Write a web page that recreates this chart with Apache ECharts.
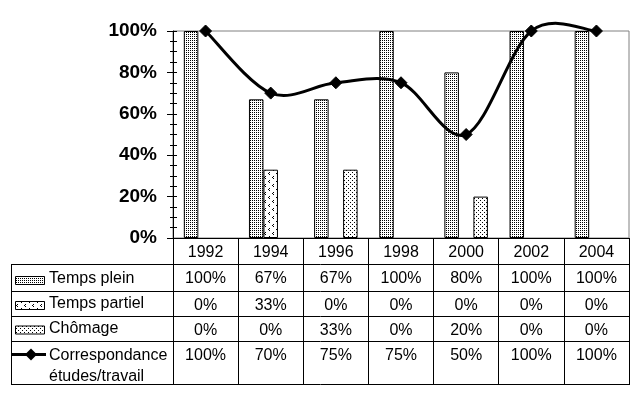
<!DOCTYPE html>
<html>
<head>
<meta charset="utf-8">
<script src="https://cdn.jsdelivr.net/npm/echarts@6/dist/echarts.min.js"></script>
<style>
html,body{margin:0;padding:0;background:#fff;}
#chart{width:639px;height:399px;}
</style>
</head>
<body>
<div id="chart"></div>
<script>
// ---- data ----
const years = ['1992', '1994', '1996', '1998', '2000', '2002', '2004'];
const tempsPlein = [1.00, 0.67, 0.67, 1.00, 0.80, 1.00, 1.00];
const tempsPartiel = [0.00, 0.33, 0.00, 0.00, 0.00, 0.00, 0.00];
const chomage = [0.00, 0.00, 0.33, 0.00, 0.20, 0.00, 0.00];
const correspondance = [1.00, 0.70, 0.75, 0.75, 0.50, 1.00, 1.00];
const seriesNames = ['Temps plein', 'Temps partiel', 'Chômage', 'Correspondance\nétudes/travail'];
const yTickLabels = ['0%', '20%', '40%', '60%', '80%', '100%'];

// ---- patterns ----
function makePattern(w, h, pts) {
  const c = document.createElement('canvas');
  c.width = w; c.height = h;
  const ctx = c.getContext('2d');
  ctx.fillStyle = '#fff';
  ctx.fillRect(0, 0, w, h);
  ctx.fillStyle = '#000';
  pts.forEach(p => ctx.fillRect(p[0], p[1], 1, 1));
  return { image: c, repeat: 'repeat' };
}
const patPlein = makePattern(2, 2, [[0, 0]]);
const patPartiel = makePattern(8, 8, [[1, 0], [0, 1], [1, 2], [5, 4], [4, 5], [5, 6]]);
const patChomage = makePattern(4, 4, [[0, 0], [2, 2]]);
const patterns = [patPlein, patPartiel, patChomage];

const FONT = "'Liberation Sans', Arial, sans-serif";
const pct = v => Math.round(v * 100) + '%';
// zero-height bars get no outline (as in the reference)
const barData = arr => arr.map(v => v === 0 ? { value: v, itemStyle: { borderWidth: 0 } } : v);

const chart = echarts.init(document.getElementById('chart'), null, { renderer: 'canvas' });

// table layout (pixels)
const tblLeft = 11, tblRight = 629;
const rowLines = [264, 291, 316, 341, 384];
const rowTextY = [279, 304, 329, 345];
const keyY = [280, 305, 329.5, 354.5];

const graphics = [];
rowLines.forEach(y => {
  graphics.push({ type: 'line', shape: { x1: tblLeft, y1: y + 0.5, x2: tblRight + 1, y2: y + 0.5 }, style: { stroke: '#000', lineWidth: 1 }, silent: true });
});
graphics.push({ type: 'line', shape: { x1: tblLeft + 0.5, y1: 264, x2: tblLeft + 0.5, y2: 385 }, style: { stroke: '#000', lineWidth: 1 }, silent: true });
for (let i = 0; i < 3; i++) {
  graphics.push({ type: 'rect', shape: { x: 15.5, y: keyY[i] - 4 + 0.5, width: 29, height: 8 }, style: { fill: patterns[i], stroke: '#000', lineWidth: 1 }, silent: true });
}
graphics.push({ type: 'line', shape: { x1: 12, y1: keyY[3], x2: 46, y2: keyY[3] }, style: { stroke: '#000', lineWidth: 3 }, silent: true });
graphics.push({ type: 'polygon', shape: { points: [[31, keyY[3] - 6], [37, keyY[3]], [31, keyY[3] + 6], [25, keyY[3]]] }, style: { fill: '#000' }, silent: true });
seriesNames.forEach((n, i) => {
  graphics.push({
    type: 'text', x: 49, y: rowTextY[i],
    style: { text: n, font: '16px ' + FONT, fill: '#000', verticalAlign: i === 3 ? 'top' : 'middle', lineHeight: 21 },
    silent: true
  });
});

// Catmull-Rom (Excel-like) smoothed curve drawn through the axes' coordinates
function renderSmooth(params, api) {
  const i = params.dataIndexInside;
  const n = params.dataInsideLength;
  if (i >= n - 1) return null;
  const P = k => {
    const kk = Math.max(0, Math.min(n - 1, k));
    return api.coord([api.value(0, kk), api.value(1, kk)]);
  };
  const p0 = P(i - 1), p1 = P(i), p2 = P(i + 1), p3 = P(i + 2);
  return {
    type: 'bezierCurve',
    shape: {
      x1: p1[0], y1: p1[1], x2: p2[0], y2: p2[1],
      cpx1: p1[0] + (p2[0] - p0[0]) / 6, cpy1: p1[1] + (p2[1] - p0[1]) / 6,
      cpx2: p2[0] - (p3[0] - p1[0]) / 6, cpy2: p2[1] - (p3[1] - p1[1]) / 6
    },
    style: { stroke: '#000', lineWidth: 3, fill: null, lineCap: 'round' },
    silent: true
  };
}

const option = {
  animation: false,
  backgroundColor: '#fff',
  textStyle: { fontFamily: FONT },
  grid: { left: 173, right: 10, top: 31, bottom: 161, show: true, borderColor: '#808080', borderWidth: 1, backgroundColor: 'transparent' },
  xAxis: {
    type: 'category', data: years, boundaryGap: true,
    axisLine: { lineStyle: { color: '#000', width: 1 } },
    axisTick: { show: true, alignWithLabel: false, length: 146, lineStyle: { color: '#000', width: 1 } },
    axisLabel: {
      interval: 0, margin: 3, color: '#000', fontSize: 16, fontFamily: FONT,
      formatter: (val, idx) => `{y|${val}}\n{a|${pct(tempsPlein[idx])}}\n{b|${pct(tempsPartiel[idx])}}\n{c|${pct(chomage[idx])}}\n{d|${pct(correspondance[idx])}}`,
      rich: {
        y: { lineHeight: 24, fontSize: 16, fontFamily: FONT, color: '#000' },
        a: { lineHeight: 28, fontSize: 16, fontFamily: FONT, color: '#000' },
        b: { lineHeight: 25, fontSize: 16, fontFamily: FONT, color: '#000' },
        c: { lineHeight: 25, fontSize: 16, fontFamily: FONT, color: '#000' },
        d: { lineHeight: 25, fontSize: 16, fontFamily: FONT, color: '#000' }
      }
    },
    splitLine: { show: false }
  },
  yAxis: [{
    type: 'value', min: 0, max: 1, interval: 0.2, position: 'left',
    axisLine: { show: true, lineStyle: { color: '#000', width: 1 } },
    axisTick: { show: true, inside: false, length: 6, lineStyle: { color: '#000' } },
    minorTick: { show: true, splitNumber: 4, length: 3, lineStyle: { color: '#000' } },
    axisLabel: { margin: 16, color: '#000', fontSize: 19, fontWeight: 'bold', fontFamily: FONT, formatter: v => yTickLabels[Math.round(v * 5)] },
    splitLine: { show: false }
  }, {
    type: 'value', min: 0, max: 1, interval: 0.2, position: 'left', offset: 0,
    axisLine: { show: false },
    axisTick: { show: true, inside: true, length: 4, lineStyle: { color: '#000' } },
    minorTick: { show: true, splitNumber: 4, length: 4, lineStyle: { color: '#000' } },
    axisLabel: { show: false },
    splitLine: { show: false }
  }],
  series: [
    { name: seriesNames[0], type: 'bar', data: barData(tempsPlein), barWidth: 14.5, barGap: '0%', itemStyle: { color: patPlein, borderColor: '#000', borderWidth: 1 } },
    { name: seriesNames[1], type: 'bar', data: barData(tempsPartiel), barWidth: 14.5, barGap: '0%', itemStyle: { color: patPartiel, borderColor: '#000', borderWidth: 1 } },
    { name: seriesNames[2], type: 'bar', data: barData(chomage), barWidth: 14.5, barGap: '0%', itemStyle: { color: patChomage, borderColor: '#000', borderWidth: 1 } },
    { name: 'curve', type: 'custom', data: correspondance.map((v, i) => [i, v]), encode: { x: 0, y: 1 }, renderItem: renderSmooth, clip: false, z: 9 },
    { name: 'Correspondance études/travail', type: 'line', data: correspondance, clip: false, z: 10,
      symbol: 'diamond', symbolSize: 12, showSymbol: true,
      lineStyle: { opacity: 0 }, itemStyle: { color: '#000', borderColor: '#000' } }
  ],
  graphic: graphics
};
chart.setOption(option);
</script>
</body>
</html>
